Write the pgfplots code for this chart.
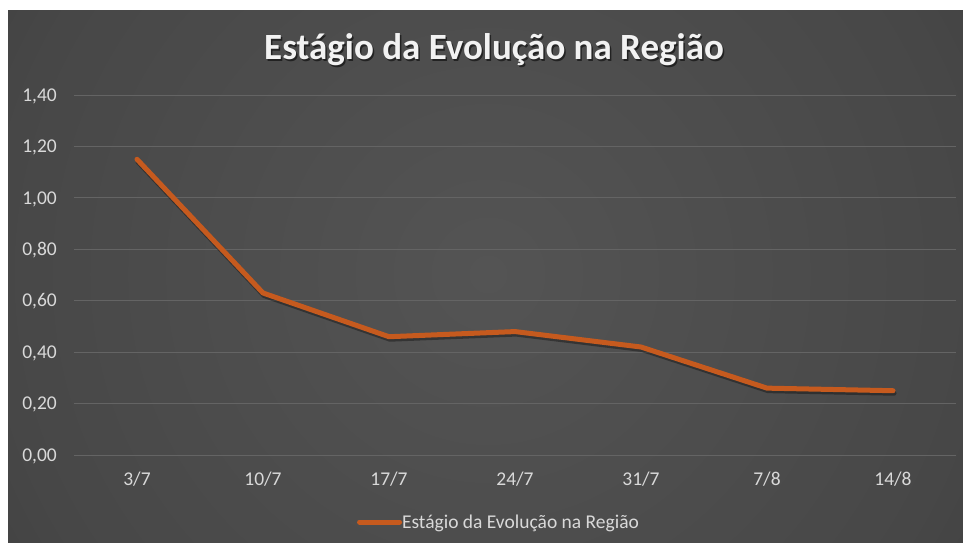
\documentclass[border=0pt]{standalone}
\usepackage{pgfplots}
\pgfplotsset{compat=1.18}
\usepackage{fontspec}
\setmainfont{Carlito}
\definecolor{linec}{HTML}{C65A1E}
\definecolor{gridc}{HTML}{646464}
\definecolor{tickc}{HTML}{D9D9D9}
\definecolor{titlec}{HTML}{F2F2F2}
\definecolor{bgA}{HTML}{545454}
\definecolor{bgB}{HTML}{474747}
\definecolor{bgC}{HTML}{2F2F2F}
\definecolor{bgD}{HTML}{262626}
\pgfdeclareradialshading{bgshade}{\pgfpoint{0bp}{0bp}}{color(0bp)=(bgA); color(22bp)=(bgB); color(42bp)=(bgC); color(50bp)=(bgD)}
\begin{document}
\begin{tikzpicture}[x=1pt,y=1pt]
\fill[white] (0,0) rectangle (963,542);
\begin{scope}
\clip (8,0) rectangle (963,531);
\shade[shading=bgshade] (488,268) circle (560pt);
\end{scope}
\node[anchor=base, text=black, opacity=0.55, font=\fontsize{37}{40}\selectfont\bfseries] at (495.5,480.5) {Estágio da Evolução na Região};
\node[anchor=base, text=titlec, font=\fontsize{37}{40}\selectfont\bfseries] at (494,482) {Estágio da Evolução na Região};
\begin{axis}[
  at={(74pt,87pt)}, anchor=south west,
  width=882pt, height=360pt, scale only axis,
  xmin=-0.5, xmax=6.5, ymin=0, ymax=1.4,
  axis line style={draw=none},
  major tick length=0pt,
  ytick={0,0.2,0.4,0.6,0.8,1.0,1.2,1.4},
  xtick={0,1,2,3,4,5,6},
  xticklabels={3/7,10/7,17/7,24/7,31/7,7/8,14/8},
  ymajorgrids,
  grid style={color=gridc, line width=0.9pt},
  /pgf/number format/assume math mode=true,
  /pgf/number format/use comma,
  /pgf/number format/fixed,
  /pgf/number format/fixed zerofill,
  /pgf/number format/precision=2,
  tick label style={font=\fontsize{19.5}{22}\selectfont, text=tickc},
  yticklabel style={anchor=base east, inner sep=0pt, xshift=-17pt, yshift=-6.2pt},
  xticklabel style={anchor=base, inner sep=0pt, yshift=-30pt},
  clip=false,
  legend style={at={(0.3209,-0.1861)}, anchor=west, draw=none, fill=none,
    inner sep=0pt, outer sep=0pt, text=tickc, font=\fontsize{19.5}{22}\selectfont,
    nodes={inner sep=0pt}, /tikz/every even column/.append style={column sep=2pt}},
  legend image code/.code={\draw[#1, line width=5pt, line cap=round] (2.5pt,0pt) -- (42.5pt,0pt);},
]
\addplot[forget plot, color=black, opacity=0.35, line width=5pt, line join=round, line cap=round, xshift=1pt, yshift=-2.5pt] coordinates {
 (0,1.15) (1,0.63) (2,0.46) (3,0.48) (4,0.42) (5,0.26) (6,0.25)};
\addplot[color=linec, line width=5pt, line join=round, line cap=round] coordinates {
 (0,1.15) (1,0.63) (2,0.46) (3,0.48) (4,0.42) (5,0.26) (6,0.25)};
\addlegendentry{Estágio da Evolução na Região}
\end{axis}
\end{tikzpicture}
\end{document}
